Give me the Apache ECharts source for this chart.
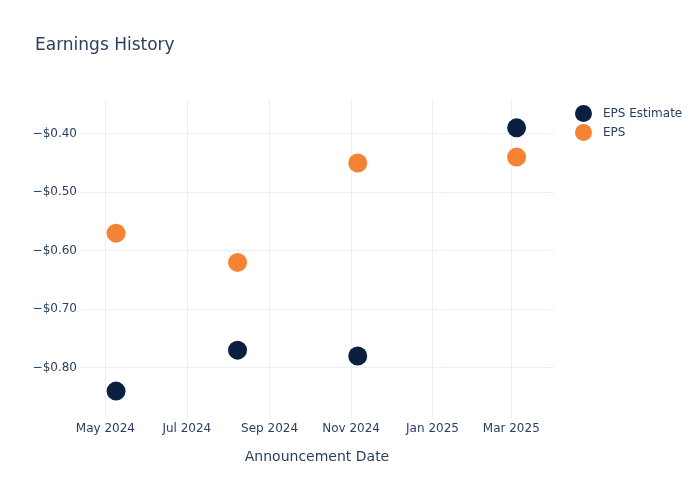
<!DOCTYPE html>
<html>
<head>
<meta charset="utf-8">
<script src="https://cdn.jsdelivr.net/npm/echarts@6/dist/echarts.min.js"></script>
<style>
  html, body { margin: 0; padding: 0; background: #fff; }
  #chart { width: 700px; height: 500px; }
</style>
</head>
<body>
<div id="chart"></div>
<script>
// announcement dates and values
const dates = ['2024-05-09', '2024-08-08', '2024-11-06', '2025-03-05'];
const epsEstimate = [-0.84, -0.77, -0.78, -0.39];
const epsActual = [-0.57, -0.62, -0.45, -0.44];
const xTicks = ['2024-05-01', '2024-07-01', '2024-09-01', '2024-11-01', '2025-01-01', '2025-03-01'];
const yTicks = [-0.8, -0.7, -0.6, -0.5, -0.4];

const toTime = (s) => {
    const p = s.split('-').map(Number);
    return new Date(p[0], p[1] - 1, p[2]).getTime();
};
const months = ['Jan', 'Feb', 'Mar', 'Apr', 'May', 'Jun', 'Jul', 'Aug', 'Sep', 'Oct', 'Nov', 'Dec'];
const textColor = '#2a3f5f';
const gridColor = '#ebf0f8';
const font = 'DejaVu Sans';

const chart = echarts.init(document.getElementById('chart'), null, { renderer: 'canvas' });

// x is a plain value axis holding timestamps, so the month ticks can be placed exactly
chart.setOption({
    animation: false,
    backgroundColor: '#fff',
    title: {
        text: 'Earnings History',
        left: 30,
        top: 32,
        textStyle: { color: textColor, fontSize: 17, fontWeight: 'normal', fontFamily: font }
    },
    legend: {
        orient: 'vertical',
        left: 570,
        top: 100,
        icon: 'circle',
        itemWidth: 17,
        itemHeight: 17,
        itemGap: 2,
        textStyle: { color: textColor, fontSize: 12, fontFamily: font, padding: [0, 0, 0, 6] },
        data: ['EPS Estimate', 'EPS']
    },
    grid: { left: 80, right: 146, top: 100, bottom: 81 },
    xAxis: {
        type: 'value',
        min: toTime('2024-04-12'),
        max: toTime('2025-04-02'),
        name: 'Announcement Date',
        nameLocation: 'middle',
        nameGap: 31,
        nameTextStyle: { color: textColor, fontSize: 14, fontFamily: font },
        axisLine: { show: false },
        axisTick: { show: false, customValues: xTicks.map(toTime) },
        axisLabel: {
            customValues: xTicks.map(toTime),
            color: textColor,
            fontSize: 12,
            fontFamily: font,
            margin: 4,
            formatter: (v) => {
                const d = new Date(v);
                return months[d.getMonth()] + ' ' + d.getFullYear();
            }
        },
        splitLine: { show: true, lineStyle: { color: gridColor, width: 1 } }
    },
    yAxis: {
        type: 'value',
        min: -0.8877,
        max: -0.3424,
        axisLine: { show: false },
        axisTick: { show: false, customValues: yTicks },
        axisLabel: {
            customValues: yTicks,
            color: textColor,
            fontSize: 12,
            fontFamily: font,
            margin: 3,
            formatter: (v) => (v < 0 ? '\u2212' : '') + '$' + Math.abs(v).toFixed(2)
        },
        splitLine: { show: true, lineStyle: { color: gridColor, width: 1 } }
    },
    series: [
        {
            name: 'EPS Estimate',
            type: 'scatter',
            symbolSize: 19,
            itemStyle: { color: '#0b1f40', opacity: 1 },
            data: dates.map((d, i) => [toTime(d), epsEstimate[i]])
        },
        {
            name: 'EPS',
            type: 'scatter',
            symbolSize: 19,
            itemStyle: { color: '#f58235', opacity: 1 },
            data: dates.map((d, i) => [toTime(d), epsActual[i]])
        }
    ]
});
</script>
</body>
</html>
